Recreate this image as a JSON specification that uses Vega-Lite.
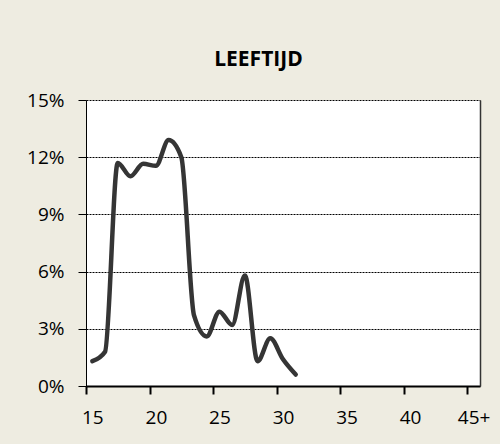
{
  "$schema": "https://vega.github.io/schema/vega-lite/v6.json",
  "width": 394,
  "height": 286,
  "autosize": {"type": "none"},
  "padding": {"left": 86, "top": 100, "right": 20, "bottom": 58},
  "background": "#EEECE1",
  "config": {
    "view": {"fill": "white", "stroke": null},
    "font": "Open Sans"
  },
  "title": {
    "text": "LEEFTIJD",
    "fontSize": 21,
    "fontWeight": "bold",
    "font": "Open Sans",
    "color": "#000000",
    "anchor": "middle",
    "frame": "group",
    "baseline": "alphabetic",
    "offset": 4,
    "dx": -24.5
  },
  "data": {
    "values": [
      {"age": 15, "share": 0.013},
      {"age": 16, "share": 0.018},
      {"age": 17, "share": 0.117},
      {"age": 18, "share": 0.110},
      {"age": 19, "share": 0.1165},
      {"age": 20, "share": 0.1155},
      {"age": 21, "share": 0.129},
      {"age": 22, "share": 0.120},
      {"age": 23, "share": 0.037},
      {"age": 24, "share": 0.026},
      {"age": 25, "share": 0.039},
      {"age": 26, "share": 0.032},
      {"age": 27, "share": 0.058},
      {"age": 28, "share": 0.013},
      {"age": 29, "share": 0.025},
      {"age": 30, "share": 0.014},
      {"age": 31, "share": 0.006}
    ]
  },
  "layer": [
    {
      "mark": {"type": "line", "interpolate": "monotone", "color": "#353535", "strokeWidth": 4.5, "strokeCap": "round", "strokeJoin": "round"},
      "encoding": {
        "x": {
          "field": "age",
          "type": "quantitative",
          "scale": {"domain": [14.5, 45.5], "nice": false, "zero": false},
          "axis": {
            "title": null,
            "orient": "bottom",
            "values": [15, 20, 25, 30, 35, 40, 45],
            "labelExpr": "datum.value == 45 ? '45+' : datum.label",
            "tickOffset": -6.355,
            "labelOffset": 6.355,
            "grid": false,
            "domainColor": "#000000",
            "domainWidth": 2,
            "tickColor": "#000000",
            "tickWidth": 2,
            "tickSize": 8,
            "labelFontSize": 19,
            "labelColor": "#000000",
            "labelPadding": 14,
            "labelFont": "Open Sans",
            "labelBound": false,
            "labelOverlap": false,
            "labelFlush": false
          }
        },
        "y": {
          "field": "share",
          "type": "quantitative",
          "scale": {"domain": [0, 0.15], "nice": false},
          "axis": {
            "title": null,
            "orient": "left",
            "values": [0, 0.03, 0.06, 0.09, 0.12, 0.15],
            "format": ".0%",
            "grid": true,
            "gridColor": "#000000",
            "gridDash": [2, 1],
            "gridWidth": 1,
            "domainColor": "#000000",
            "domainWidth": 1,
            "tickColor": "#000000",
            "tickWidth": 1,
            "tickSize": 8,
            "labelFontSize": 19,
            "labelColor": "#000000",
            "labelPadding": 14,
            "labelFont": "Open Sans",
            "labelOverlap": false,
            "labelFlush": false
          }
        }
      }
    },
    {
      "mark": {"type": "line", "opacity": 0},
      "encoding": {
        "x": {"field": "age", "type": "quantitative"},
        "y": {
          "field": "share",
          "type": "quantitative",
          "axis": {
            "orient": "right",
            "title": null,
            "labels": false,
            "ticks": false,
            "grid": false,
            "domainColor": "#333333",
            "domainWidth": 1.5
          }
        }
      }
    }
  ],
  "resolve": {"axis": {"y": "independent"}}
}
